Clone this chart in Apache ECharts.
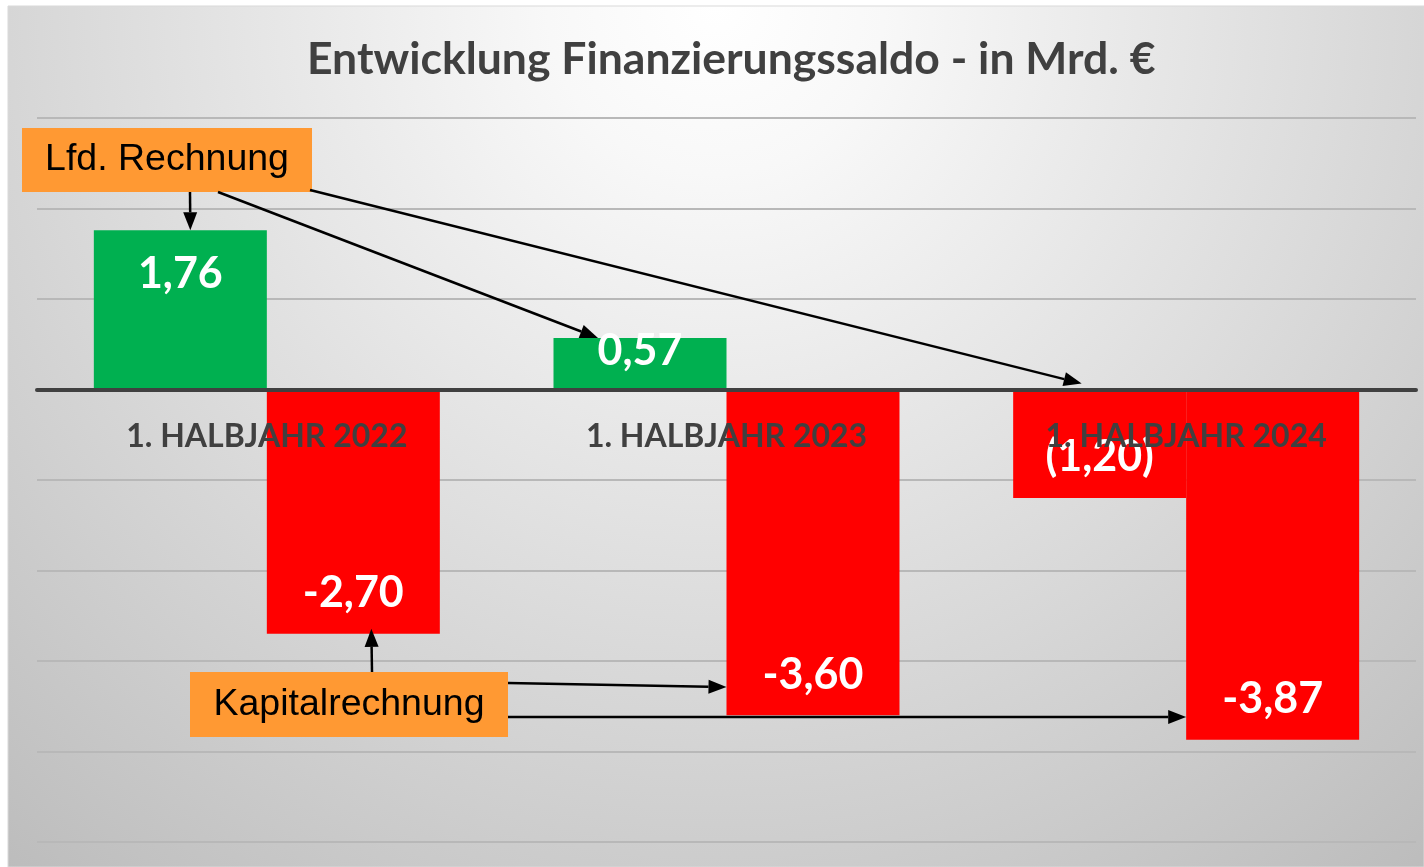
<!DOCTYPE html>
<html>
<head>
<meta charset="utf-8">
<script src="https://cdn.jsdelivr.net/npm/echarts@6/dist/echarts.min.js"></script>
<style>
  html, body { margin: 0; padding: 0; background: #fff; }
  #main { width: 1424px; height: 867px; }
</style>
</head>
<body>
<div id="main"></div>
<script>
// data
const categories = ['1. HALBJAHR 2022', '1. HALBJAHR 2023', '1. HALBJAHR 2024']
const lfdRechnung = [1.76, 0.57, -1.20]
const kapitalRechnung = [-2.70, -3.60, -3.87]
const seriesNames = ['Lfd. Rechnung', 'Kapitalrechnung']
const titleText = 'Entwicklung Finanzierungssaldo - in Mrd. €'

const BAR_W = 173
const fontBold = 'Lato'
const GREEN = '#00B050'
const RED = '#FF0000'

let chart = echarts.init(document.getElementById('main'))

function fmt (v) {
  return v.toFixed(2).replace('.', ',')
}

// label sits inside the bar end; short bars get their label pushed out a bit
// negative values of the green series are drawn red (invert if negative)
function barData (values, posColor) {
  return values.map(v => ({
    value: v,
    itemStyle: { color: v >= 0 ? posColor : RED },
    label: {
      position: v >= 0 ? 'insideTop' : 'insideBottom',
      distance: v >= 0 ? 22 : 19,
      offset: Math.abs(v) < 1 ? [0, -30] : [0, 0]
    }
  }))
}

const labelStyle = {
  show: true,
  color: '#fff',
  fontFamily: fontBold,
  fontWeight: 'bold',
  fontSize: 43
}

const catLabel = {
  color: '#404040',
  fontFamily: fontBold,
  fontWeight: 'bold',
  fontSize: 32
}

chart.setOption({
  animation: false,
  title: {
    text: titleText,
    left: 302,
    top: 32,
    textStyle: { fontFamily: fontBold, fontWeight: 'bold', fontSize: 44.5, color: '#404040' }
  },
  grid: { left: 37, right: 8, top: 118, bottom: 25, outerBoundsMode: 'none' },
  xAxis: [
    {
      type: 'category',
      data: categories,
      z: 10,
      axisLine: { onZero: true, lineStyle: { color: '#404040', width: 4 } },
      axisTick: { show: false },
      axisLabel: { show: false }
    },
    {
      // label-only axis, shifted up to the zero line once the layout is known
      type: 'category',
      data: categories,
      position: 'bottom',
      z: 10,
      axisLine: { show: false, onZero: false },
      axisTick: { show: false },
      splitLine: { show: false },
      axisLabel: Object.assign({ margin: 31 }, catLabel)
    }
  ],
  yAxis: {
    type: 'value',
    min: -5,
    max: 3,
    interval: 1,
    axisLine: { show: false },
    axisTick: { show: false },
    axisLabel: { show: false },
    splitLine: { lineStyle: { color: '#b8b8b8', width: 2 } }
  },
  series: [
    {
      name: seriesNames[0],
      type: 'bar',
      barWidth: BAR_W,
      barGap: '0%',
      itemStyle: { color: GREEN },
      label: Object.assign({}, labelStyle, {
        formatter: p => p.value < 0 ? '(' + fmt(-p.value) + ')' : fmt(p.value)
      }),
      data: barData(lfdRechnung, GREEN)
    },
    {
      name: seriesNames[1],
      type: 'bar',
      barWidth: BAR_W,
      barGap: '0%',
      itemStyle: { color: RED },
      label: Object.assign({}, labelStyle, {
        formatter: p => fmt(p.value)
      }),
      data: barData(kapitalRechnung, RED)
    }
  ]
})

// pixel helpers
function px (i, v) {
  return chart.convertToPixel({ gridIndex: 0 }, [i, v])
}

function arrow (x1, y1, x2, y2) {
  let dx = x2 - x1
  let dy = y2 - y1
  let len = Math.sqrt(dx * dx + dy * dy)
  let ux = dx / len
  let uy = dy / len
  let head = 18
  let half = 7
  let bx = x2 - ux * head
  let by = y2 - uy * head
  return [
    {
      type: 'line',
      z: 20,
      shape: { x1: x1, y1: y1, x2: bx, y2: by },
      style: { stroke: '#000', lineWidth: 2.5 }
    },
    {
      type: 'polygon',
      z: 20,
      shape: { points: [[x2, y2], [bx - uy * half, by + ux * half], [bx + uy * half, by - ux * half]] },
      style: { fill: '#000' }
    }
  ]
}

function box (x, y, w, h, text) {
  return {
    type: 'group',
    z: 30,
    children: [
      { type: 'rect', shape: { x: x, y: y, width: w, height: h }, style: { fill: '#FF9933' } },
      {
        type: 'text',
        x: x + w / 2,
        y: y + h / 2,
        style: {
          text: text,
          fill: '#000',
          font: '37.5px "Liberation Sans", Arial, sans-serif',
          align: 'center',
          verticalAlign: 'middle'
        }
      }
    ]
  }
}

let green = lfdRechnung.map((v, i) => {
  let p = px(i, v)
  return [p[0] - BAR_W / 2, p[1]]
})
let red = kapitalRechnung.map((v, i) => {
  let p = px(i, v)
  return [p[0] + BAR_W / 2, p[1]]
})
let zeroY = px(0, 0)[1]
let bottomY = px(0, -5)[1]

let elements = [
  {
    type: 'rect',
    z: -10,
    shape: { x: 8, y: 6, width: 1416, height: 861 },
    style: {
      fill: new echarts.graphic.RadialGradient(0.5, 0, 1.3, [
        { offset: 0, color: '#ffffff' },
        { offset: 0.15, color: '#f8f8f8' },
        { offset: 1, color: '#bcbcbc' }
      ]),
      stroke: '#d9d9d9',
      lineWidth: 1
    }
  },
  box(22, 128, 290, 64, seriesNames[0]),
  box(190, 672, 318, 65, seriesNames[1])
]
elements = elements
  .concat(arrow(190, 192, green[0][0] + 10, green[0][1]))
  .concat(arrow(218, 192, green[1][0] - 42, green[1][1]))
  .concat(arrow(310, 190, green[2][0] - 18, zeroY - 6))
  .concat(arrow(372, 672, red[0][0] + 18, red[0][1] - 5))
  .concat(arrow(508, 683, red[1][0] - BAR_W / 2, 687))
  .concat(arrow(508, 717, red[2][0] - BAR_W / 2, 717))

chart.setOption({
  xAxis: [{}, { offset: zeroY - bottomY }],
  graphic: { elements: elements }
})
</script>
</body>
</html>
